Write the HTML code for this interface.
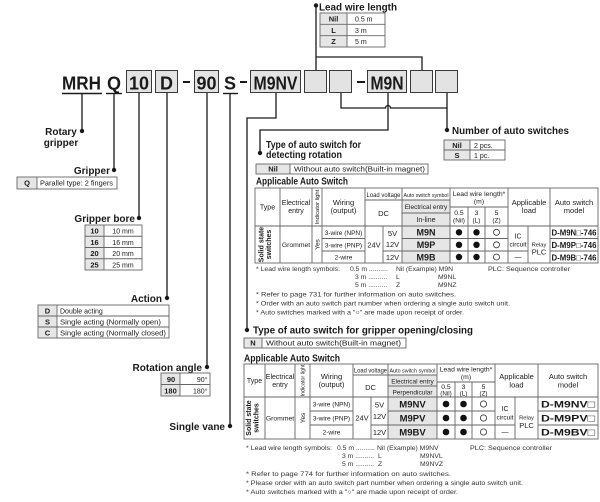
<!DOCTYPE html>
<html><head><meta charset="utf-8">
<style>
html,body{margin:0;padding:0;background:#fff;}
svg{display:block;font-family:"Liberation Sans",Arial,sans-serif;}
text{fill:#1a1a1a;}
.s{font-size:7px;}
.f{font-size:6.8px;fill:#333;}
.k{font-size:7.5px;font-weight:bold;}
.h{font-size:10px;font-weight:bold;}
.big{font-size:18px;font-weight:bold;}
.ln{stroke:#1a1a1a;stroke-width:1.3;fill:none;}
.c{stroke:#666;stroke-width:0.9;fill:none;}
.bx{fill:#e3e3e3;stroke:#3a3a3a;stroke-width:1;}
.m{text-anchor:middle;}
.e{text-anchor:end;}
</style></head><body>
<svg width="600" height="502" viewBox="0 0 600 502">
<rect width="600" height="502" fill="#fff"/>

<!-- ===== code row ===== -->
<text class="big" x="62" y="89.5" textLength="39" lengthAdjust="spacingAndGlyphs">MRH</text>
<line x1="62" y1="93.5" x2="102" y2="93.5" stroke="#1a1a1a" stroke-width="1.4"/>
<text class="big" x="107" y="89.5">Q</text>
<line x1="106" y1="93.5" x2="122" y2="93.5" stroke="#1a1a1a" stroke-width="1.4"/>
<rect class="bx" x="126.5" y="70.5" width="25" height="22"/>
<text class="big m" x="139" y="89.5">10</text>
<rect class="bx" x="155.5" y="70.5" width="22" height="22"/>
<text class="big m" x="166.5" y="89.5">D</text>
<rect x="183" y="81" width="7" height="2" fill="#1a1a1a"/>
<rect class="bx" x="194.5" y="70.5" width="24" height="22"/>
<text class="big m" x="206.5" y="89.5">90</text>
<text class="big" x="224" y="89.5">S</text>
<line x1="223" y1="93.5" x2="238" y2="93.5" stroke="#1a1a1a" stroke-width="1.4"/>
<rect x="240" y="81" width="7" height="2" fill="#1a1a1a"/>
<rect class="bx" x="250.5" y="70.5" width="50" height="22"/>
<text class="big m" x="275.5" y="89.5" textLength="44" lengthAdjust="spacingAndGlyphs">M9NV</text>
<rect class="bx" x="304.5" y="70.5" width="22" height="22"/>
<rect class="bx" x="329.5" y="70.5" width="22" height="22"/>
<rect x="357" y="81" width="8" height="2" fill="#1a1a1a"/>
<rect class="bx" x="367.5" y="70.5" width="39" height="22"/>
<text class="big m" x="387" y="89.5" textLength="33" lengthAdjust="spacingAndGlyphs">M9N</text>
<rect class="bx" x="410.5" y="70.5" width="22" height="22"/>
<rect class="bx" x="435.5" y="70.5" width="22" height="22"/>

<!-- ===== connectors ===== -->
<path class="ln" d="M82 94 V131"/><circle cx="82" cy="131" r="2.2" fill="#1a1a1a"/>
<path class="ln" d="M114 94 V170"/><circle cx="114" cy="170" r="2.2" fill="#1a1a1a"/>
<path class="ln" d="M139 93 V218"/><circle cx="139" cy="218" r="2.2" fill="#1a1a1a"/>
<path class="ln" d="M167 93 V298"/><circle cx="167" cy="298" r="2.2" fill="#1a1a1a"/>
<path class="ln" d="M207 93 V367"/><circle cx="207" cy="367" r="2.2" fill="#1a1a1a"/>
<path class="ln" d="M230 94 V426"/><circle cx="230" cy="426" r="2.2" fill="#1a1a1a"/>
<path class="ln" d="M276 93 V118 H247 V330"/><circle cx="247" cy="330" r="2.2" fill="#1a1a1a"/>
<path class="ln" d="M316 5 V70 M316 57 H422 V70"/><circle cx="316" cy="5.5" r="2.2" fill="#1a1a1a"/>
<path class="ln" d="M341 93 V108 H385.5 a2.5 2.5 0 0 1 5 0 H447 M447 93 V130"/><circle cx="447" cy="130" r="2.2" fill="#1a1a1a"/>
<path class="ln" d="M388 93 V130 H260 V153"/><circle cx="260" cy="153" r="2.2" fill="#1a1a1a"/>

<!-- ===== titles ===== -->
<text class="h" x="319" y="10.5" textLength="78" lengthAdjust="spacingAndGlyphs">Lead wire length</text>
<text class="h m" x="61" y="135">Rotary</text>
<text class="h m" x="61" y="146">gripper</text>
<text class="h e" x="110" y="174">Gripper</text>
<text class="h e" x="135" y="222">Gripper bore</text>
<text class="h e" x="162" y="302">Action</text>
<text class="h e" x="202" y="371">Rotation angle</text>
<text class="h e" x="225" y="430">Single vane</text>
<text class="h" x="452" y="134" textLength="117" lengthAdjust="spacingAndGlyphs">Number of auto switches</text>
<text class="h" x="266" y="148" textLength="95" lengthAdjust="spacingAndGlyphs">Type of auto switch for</text>
<text class="h" x="266" y="158" textLength="76" lengthAdjust="spacingAndGlyphs">detecting rotation</text>
<text class="h" x="256" y="184.5" textLength="92" lengthAdjust="spacingAndGlyphs">Applicable Auto Switch</text>
<text class="h" x="253" y="333.5" textLength="220" lengthAdjust="spacingAndGlyphs">Type of auto switch for gripper opening/closing</text>
<text class="h" x="244" y="361.5" textLength="96" lengthAdjust="spacingAndGlyphs">Applicable Auto Switch</text>

<!-- ===== small key tables ===== -->
<rect x="320" y="13" width="27" height="34" fill="#e6e6e6"/>
<rect class="c" x="320" y="13" width="65" height="34"/>
<path class="c" d="M347 13 V47 M320 24.3 H385 M320 35.7 H385"/>
<text class="k m" x="333.5" y="21.5">Nil</text><text class="s" x="355" y="21.5">0.5 m</text>
<text class="k m" x="333.5" y="32.8">L</text><text class="s" x="355" y="32.8">3 m</text>
<text class="k m" x="333.5" y="44.2">Z</text><text class="s" x="355" y="44.2">5 m</text>

<rect x="444" y="140" width="26" height="20" fill="#e6e6e6"/>
<rect class="c" x="444" y="140" width="61" height="20"/>
<path class="c" d="M470 140 V160 M444 150 H505"/>
<text class="k m" x="457" y="147.8">Nil</text><text class="s" x="474" y="147.8">2 pcs.</text>
<text class="k m" x="457" y="157.8">S</text><text class="s" x="474" y="157.8">1 pc.</text>

<rect x="256" y="164" width="34" height="10" fill="#e6e6e6"/>
<rect class="c" x="256" y="164" width="172" height="10"/>
<path class="c" d="M290 164 V174"/>
<text class="k m" x="273" y="171.6">Nil</text>
<text class="s" x="294" y="171.6" textLength="131" lengthAdjust="spacingAndGlyphs">Without auto switch(Built-in magnet)</text>

<rect x="244" y="338" width="18" height="10" fill="#e6e6e6"/>
<rect class="c" x="244" y="338" width="162" height="10"/>
<path class="c" d="M262 338 V348"/>
<text class="k m" x="253" y="345.6">N</text>
<text class="s" x="266" y="345.6" textLength="135" lengthAdjust="spacingAndGlyphs">Without auto switch(Built-in magnet)</text>

<rect x="17" y="177" width="20" height="12" fill="#e6e6e6"/>
<rect class="c" x="17" y="177" width="100" height="12"/>
<path class="c" d="M37 177 V189"/>
<text class="k m" x="27" y="185.6">Q</text>
<text class="s" x="40" y="185.6" textLength="73" lengthAdjust="spacingAndGlyphs">Parallel type: 2 fingers</text>

<rect x="85" y="225" width="19" height="45" fill="#e6e6e6"/>
<rect class="c" x="85" y="225" width="57" height="45"/>
<path class="c" d="M104 225 V270 M85 236.25 H142 M85 247.5 H142 M85 258.75 H142"/>
<text class="k m" x="94.5" y="233.6">10</text><text class="s m" x="123" y="233.6">10 mm</text>
<text class="k m" x="94.5" y="244.9">16</text><text class="s m" x="123" y="244.9">16 mm</text>
<text class="k m" x="94.5" y="256.1">20</text><text class="s m" x="123" y="256.1">20 mm</text>
<text class="k m" x="94.5" y="267.4">25</text><text class="s m" x="123" y="267.4">25 mm</text>

<rect x="38" y="305" width="19" height="33" fill="#e6e6e6"/>
<rect class="c" x="38" y="305" width="131" height="33"/>
<path class="c" d="M57 305 V338 M38 316 H169 M38 327 H169"/>
<text class="k m" x="47.5" y="313.5">D</text><text class="s" x="60" y="313.5">Double acting</text>
<text class="k m" x="47.5" y="324.5">S</text><text class="s" x="60" y="324.5" textLength="101" lengthAdjust="spacingAndGlyphs">Single acting (Normally open)</text>
<text class="k m" x="47.5" y="335.5">C</text><text class="s" x="60" y="335.5" textLength="106" lengthAdjust="spacingAndGlyphs">Single acting (Normally closed)</text>

<rect x="161" y="373" width="19" height="23" fill="#e6e6e6"/>
<rect class="c" x="161" y="373" width="49" height="23"/>
<path class="c" d="M180 373 V396 M161 384.5 H210"/>
<text class="k m" x="171" y="381.8">90</text><text class="s e" x="207.5" y="381.8">90°</text>
<text class="k m" x="170.5" y="393.3">180</text><text class="s e" x="207.5" y="393.3">180°</text>

<!-- ===== Table 1 ===== -->
<rect x="402" y="200" width="48" height="63" fill="#e6e6e6"/>
<rect class="c" x="255" y="188" width="343" height="75"/>
<path class="c" d="M280 188 V263 M312 188 V263 M322 188 V263 M365 188 V263 M402 188 V263 M450 188 V263 M508 188 V263 M550 188 V263
 M468 207 V263 M485 207 V263 M365 200 H450 M402 213 H450 M450 207 H508 M255 226 H598
 M383 226 V263 M528 226 V263
 M322 238.5 H365 M402 238.5 H508 M550 238.5 H598
 M322 251 H365 M383 251 H508 M508 251 H528 M550 251 H598"/>
<text class="s m" x="267.5" y="209.5">Type</text>
<text class="s m" x="296" y="205">Electrical</text><text class="s m" x="296" y="213">entry</text>
<text class="m" style="font-size:5.8px" transform="translate(319.2,207) rotate(-90)">Indicator light</text>
<text class="m" x="343.5" y="205" style="font-size:7.5px">Wiring</text><text class="m" x="343.5" y="213" style="font-size:7.5px">(output)</text>
<text class="m" style="font-size:6px" x="383.5" y="197" textLength="34" lengthAdjust="spacingAndGlyphs">Load voltage</text>
<text class="m" style="font-size:7.5px" x="383.5" y="216">DC</text>
<text class="m" style="font-size:5.8px" x="426" y="197" textLength="45" lengthAdjust="spacingAndGlyphs">Auto switch symbol</text>
<text class="m" style="font-size:6.5px" x="426" y="209">Electrical entry</text>
<text class="m" style="font-size:7px" x="426" y="222">In-line</text>
<text class="m" style="font-size:6.8px" x="479" y="196">Lead wire length*</text>
<text class="m" style="font-size:6.8px" x="479" y="203.5">(m)</text>
<text class="m" style="font-size:6.8px" x="459" y="215">0.5</text><text class="m" style="font-size:6.5px" x="459" y="222.5">(Nil)</text>
<text class="m" style="font-size:6.8px" x="476.5" y="215">3</text><text class="m" style="font-size:6.5px" x="476.5" y="222.5">(L)</text>
<text class="m" style="font-size:6.8px" x="496.5" y="215">5</text><text class="m" style="font-size:6.5px" x="496.5" y="222.5">(Z)</text>
<text class="m" style="font-size:7.5px" x="529" y="205">Applicable</text><text class="m" style="font-size:7.5px" x="529" y="213">load</text>
<text class="m" style="font-size:7.5px" x="574" y="205">Auto switch</text><text class="m" style="font-size:7.5px" x="574" y="213">model</text>

<text class="m" style="font-size:7px;font-weight:bold" transform="translate(263.5,244.5) rotate(-90)">Solid state</text>
<text class="m" style="font-size:7px;font-weight:bold" transform="translate(271,244.5) rotate(-90)">switches</text>
<text class="m" style="font-size:6.8px" x="296" y="247">Grommet</text>
<text class="m" style="font-size:6.5px" transform="translate(319.5,244.5) rotate(-90)">Yes</text>
<text class="m" style="font-size:6.5px" x="343.5" y="234.8">3-wire (NPN)</text>
<text class="m" style="font-size:6.5px" x="343.5" y="247.3">3-wire (PNP)</text>
<text class="m" style="font-size:6.5px" x="343.5" y="259.6">2-wire</text>
<text class="m" style="font-size:7.5px" x="374" y="247.5">24V</text>
<text class="m" style="font-size:7.5px" x="392.5" y="236">5V</text>
<text class="m" style="font-size:7.5px" x="392.5" y="247">12V</text>
<text class="m" style="font-size:7.5px" x="392.5" y="260">12V</text>
<text class="m" style="font-size:9px;font-weight:bold" x="426" y="235.5">M9N</text>
<text class="m" style="font-size:9px;font-weight:bold" x="426" y="248">M9P</text>
<text class="m" style="font-size:9px;font-weight:bold" x="426" y="260.5">M9B</text>
<g fill="#111">
<circle cx="459" cy="232.3" r="3.2"/><circle cx="476.5" cy="232.3" r="3.2"/>
<circle cx="459" cy="244.8" r="3.2"/><circle cx="476.5" cy="244.8" r="3.2"/>
<circle cx="459" cy="257" r="3.2"/><circle cx="476.5" cy="257" r="3.2"/>
</g>
<g fill="none" stroke="#333" stroke-width="0.8">
<circle cx="496.5" cy="232.3" r="3"/><circle cx="496.5" cy="244.8" r="3"/><circle cx="496.5" cy="257" r="3"/>
</g>
<text class="m" style="font-size:7px" x="518" y="238.5">IC</text>
<text class="m" style="font-size:6.5px" x="518" y="246.5">circuit</text>
<text class="m" style="font-size:7px" x="518" y="259.5">—</text>
<text class="m" style="font-size:5.8px" x="539" y="246.5">Relay</text>
<text class="m" style="font-size:7.5px" x="539" y="254.5">PLC</text>
<text class="m" style="font-size:7.8px;font-weight:bold" x="574" y="235.5" textLength="45" lengthAdjust="spacingAndGlyphs">D-M9N□-746</text>
<text class="m" style="font-size:7.8px;font-weight:bold" x="574" y="248" textLength="45" lengthAdjust="spacingAndGlyphs">D-M9P□-746</text>
<text class="m" style="font-size:7.8px;font-weight:bold" x="574" y="260.5" textLength="45" lengthAdjust="spacingAndGlyphs">D-M9B□-746</text>

<!-- footnotes 1 -->
<text class="f" x="256" y="271" textLength="84" lengthAdjust="spacingAndGlyphs">* Lead wire length symbols:</text>
<text class="f" x="350" y="271">0.5 m ..........</text>
<text class="f" x="396" y="271">Nil (Example) M9N</text>
<text class="f" x="488" y="271" textLength="82" lengthAdjust="spacingAndGlyphs">PLC: Sequence controller</text>
<text class="f" x="355" y="279">3 m ..........</text><text class="f" x="396" y="279">L</text><text class="f" x="438" y="279">M9NL</text>
<text class="f" x="355" y="287">5 m ..........</text><text class="f" x="396" y="287">Z</text><text class="f" x="438" y="287">M9NZ</text>
<text class="f" x="256" y="296.5" textLength="200" lengthAdjust="spacingAndGlyphs">* Refer to page 731 for further information on auto switches.</text>
<text class="f" x="256" y="305.5" textLength="254" lengthAdjust="spacingAndGlyphs">* Order with an auto switch part number when ordering a single auto switch unit.</text>
<text class="f" x="256" y="314.5" textLength="208" lengthAdjust="spacingAndGlyphs">* Auto switches marked with a "○" are made upon receipt of order.</text>

<!-- ===== Table 2 ===== -->
<rect x="388" y="375" width="49" height="64" fill="#e6e6e6"/>
<rect class="c" x="244" y="364" width="354" height="75"/>
<path class="c" d="M265 364 V439 M295 364 V439 M310 364 V439 M353 364 V439 M388 364 V439 M437 364 V439 M495 364 V439 M538 364 V439
 M455 382 V439 M472 382 V439 M353 375 H437 M388 386 H437 M437 382 H495 M244 397 H598
 M371 397 V439 M515 397 V439
 M310 411 H353 M388 411 H495 M538 411 H598
 M310 425 H353 M371 425 H495 M495 425 H515 M538 425 H598"/>
<text class="s m" x="254.5" y="383">Type</text>
<text class="s m" x="280" y="379">Electrical</text><text class="s m" x="280" y="387">entry</text>
<text class="m" style="font-size:5.4px" transform="translate(304.5,380.5) rotate(-90)">Indicator light</text>
<text class="m" style="font-size:7.5px" x="331.5" y="379">Wiring</text><text class="m" style="font-size:7.5px" x="331.5" y="387">(output)</text>
<text class="m" style="font-size:6px" x="370.5" y="372.5" textLength="33" lengthAdjust="spacingAndGlyphs">Load voltage</text>
<text class="m" style="font-size:7.5px" x="370.5" y="390">DC</text>
<text class="m" style="font-size:5.8px" x="412.5" y="372.5" textLength="46" lengthAdjust="spacingAndGlyphs">Auto switch symbol</text>
<text class="m" style="font-size:6.5px" x="412.5" y="383.5">Electrical entry</text>
<text class="m" style="font-size:6.5px" x="412.5" y="394.5">Perpendicular</text>
<text class="m" style="font-size:6.8px" x="466" y="371.5">Lead wire length*</text>
<text class="m" style="font-size:6.8px" x="466" y="379">(m)</text>
<text class="m" style="font-size:6.8px" x="446" y="389">0.5</text><text class="m" style="font-size:6.3px" x="446" y="395.5">(Nil)</text>
<text class="m" style="font-size:6.8px" x="463.5" y="389">3</text><text class="m" style="font-size:6.3px" x="463.5" y="395.5">(L)</text>
<text class="m" style="font-size:6.8px" x="483.5" y="389">5</text><text class="m" style="font-size:6.3px" x="483.5" y="395.5">(Z)</text>
<text class="m" style="font-size:7.5px" x="516.5" y="379">Applicable</text><text class="m" style="font-size:7.5px" x="516.5" y="387.5">load</text>
<text class="m" style="font-size:7.5px" x="568" y="379">Auto switch</text><text class="m" style="font-size:7.5px" x="568" y="387.5">model</text>

<text class="m" style="font-size:7px;font-weight:bold" transform="translate(251,418) rotate(-90)">Solid state</text>
<text class="m" style="font-size:7px;font-weight:bold" transform="translate(258.5,418) rotate(-90)">switches</text>
<text class="m" style="font-size:6.8px" x="280" y="420.5">Grommet</text>
<text class="m" style="font-size:6.5px" transform="translate(305,418) rotate(-90)">Yes</text>
<text class="m" style="font-size:6.5px" x="331.5" y="406.5">3-wire (NPN)</text>
<text class="m" style="font-size:6.5px" x="331.5" y="420.5">3-wire (PNP)</text>
<text class="m" style="font-size:6.5px" x="331.5" y="434.5">2-wire</text>
<text class="m" style="font-size:7.5px" x="362" y="420.5">24V</text>
<text class="m" style="font-size:7.5px" x="379.5" y="407.5">5V</text>
<text class="m" style="font-size:7.5px" x="379.5" y="419">12V</text>
<text class="m" style="font-size:7.5px" x="379.5" y="435">12V</text>
<text class="m" style="font-size:9.5px;font-weight:bold" x="412.5" y="407.5">M9NV</text>
<text class="m" style="font-size:9.5px;font-weight:bold" x="412.5" y="421.5">M9PV</text>
<text class="m" style="font-size:9.5px;font-weight:bold" x="412.5" y="435.5">M9BV</text>
<g fill="#111">
<circle cx="446" cy="404" r="3.3"/><circle cx="463.5" cy="404" r="3.3"/>
<circle cx="446" cy="418" r="3.3"/><circle cx="463.5" cy="418" r="3.3"/>
<circle cx="446" cy="432" r="3.3"/><circle cx="463.5" cy="432" r="3.3"/>
</g>
<g fill="none" stroke="#333" stroke-width="0.8">
<circle cx="483.5" cy="404" r="3.1"/><circle cx="483.5" cy="418" r="3.1"/><circle cx="483.5" cy="432" r="3.1"/>
</g>
<text class="m" style="font-size:7px" x="505" y="411">IC</text>
<text class="m" style="font-size:6.5px" x="505" y="419.5">circuit</text>
<text class="m" style="font-size:7px" x="505" y="434.5">—</text>
<text class="m" style="font-size:5.8px" x="526.5" y="419.5">Relay</text>
<text class="m" style="font-size:7.5px" x="526.5" y="428">PLC</text>
<text class="m" style="font-size:9.5px;font-weight:bold" x="568" y="407.5" textLength="54" lengthAdjust="spacingAndGlyphs">D-M9NV□</text>
<text class="m" style="font-size:9.5px;font-weight:bold" x="568" y="421.5" textLength="54" lengthAdjust="spacingAndGlyphs">D-M9PV□</text>
<text class="m" style="font-size:9.5px;font-weight:bold" x="568" y="435.5" textLength="54" lengthAdjust="spacingAndGlyphs">D-M9BV□</text>

<!-- footnotes 2 -->
<text class="f" x="246" y="450" textLength="86" lengthAdjust="spacingAndGlyphs">* Lead wire length symbols:</text>
<text class="f" x="337" y="450">0.5 m ..........</text>
<text class="f" x="377" y="450">Nil (Example) M9NV</text>
<text class="f" x="470" y="450" textLength="82" lengthAdjust="spacingAndGlyphs">PLC: Sequence controller</text>
<text class="f" x="342" y="458">3 m ..........</text><text class="f" x="378" y="458">L</text><text class="f" x="420" y="458">M9NVL</text>
<text class="f" x="342" y="466">5 m ..........</text><text class="f" x="378" y="466">Z</text><text class="f" x="420" y="466">M9NVZ</text>
<text class="f" x="246" y="476" textLength="205" lengthAdjust="spacingAndGlyphs">* Refer to page 774 for further information on auto switches.</text>
<text class="f" x="246" y="485" textLength="277" lengthAdjust="spacingAndGlyphs">* Please order with an auto switch part number when ordering a single auto switch unit.</text>
<text class="f" x="246" y="494" textLength="212" lengthAdjust="spacingAndGlyphs">* Auto switches marked with a "○" are made upon receipt of order.</text>
</svg>
</body></html>
